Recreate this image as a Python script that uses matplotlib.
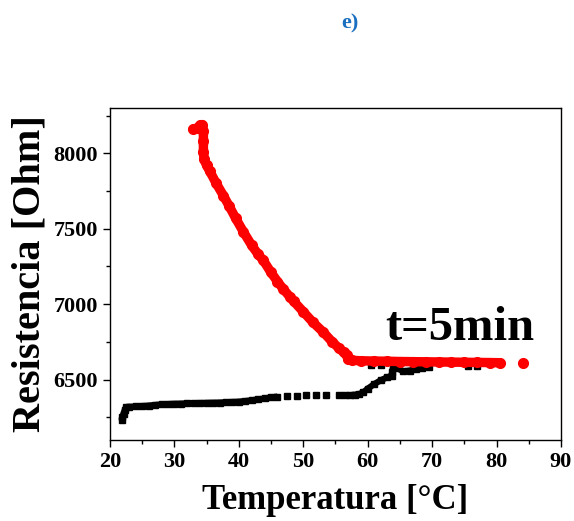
import matplotlib
matplotlib.use("Agg")
import matplotlib.pyplot as plt
from matplotlib.ticker import MultipleLocator

# ---- data ----
red_T = [32.9, 33.5, 34.0, 34.3, 34.5, 34.5, 34.5, 34.6, 35.0, 35.5, 36.5, 37.6, 38.5,
         39.5, 40.7, 42.0, 43.0, 43.8, 45.0, 46.0, 46.9, 48.0, 48.5, 50.0, 51.5,
         53.1, 54.5, 55.5, 56.3, 56.8, 56.9, 57.5, 59.0, 61.0, 63.0, 65.0, 67.0,
         69.0, 71.0, 73.0, 75.0, 77.0, 79.0, 80.5]
red_R = [8160, 8165, 8185, 8190, 8150, 8080, 8010, 7960, 7920, 7880, 7800, 7720, 7650,
         7570, 7480, 7390, 7330, 7290, 7210, 7150, 7100, 7045, 7020, 6950, 6880,
         6815, 6750, 6710, 6680, 6660, 6635, 6628, 6625, 6623, 6622, 6620, 6619,
         6618, 6617, 6616, 6615, 6614, 6613, 6612]
red_iso_T = [84.1]
red_iso_R = [6612]

black_lo_T = [21.8, 21.9, 22.1, 22.3, 22.5, 23.0, 24.0, 25.0, 26.0, 27.0, 28.0, 29.0,
              30.0, 31.0, 32.0, 33.0, 34.0, 35.0, 36.0, 37.0, 38.0, 39.0, 40.0, 41.0,
              42.0, 43.0, 44.0, 45.0, 46.0]
black_lo_R = [6232, 6250, 6275, 6300, 6318, 6320, 6322, 6325, 6328, 6332, 6336, 6338,
              6340, 6341, 6342, 6344, 6345, 6346, 6347, 6348, 6350, 6352, 6354, 6358,
              6363, 6369, 6375, 6382, 6388]
black_mid_T = [47.5, 49.0, 50.5, 52.0, 53.5, 55.5, 56.5]
black_mid_R = [6392, 6394, 6395, 6396, 6396, 6397, 6397]
black_hi_T = [57.3, 58.0, 58.7, 59.3, 60.0, 61.0, 62.0, 63.0, 63.7, 63.8, 63.9, 64.5,
              65.5, 66.5, 67.5, 68.5, 69.5]
black_hi_R = [6397, 6400, 6405, 6415, 6440, 6470, 6495, 6515, 6525, 6550, 6575, 6578,
              6555, 6560, 6570, 6578, 6585]
black_top_T = [60.5, 62.0, 75.5, 77.0]
black_top_R = [6597, 6597, 6590, 6592]

x_ticks = [20, 30, 40, 50, 60, 70, 80, 90]
y_ticks = [6500, 7000, 7500, 8000]

# ---- figure ----
plt.rcParams['font.family'] = ['Liberation Serif', 'DejaVu Serif']
fig = plt.figure(figsize=(5.74, 5.21), dpi=100)
ax = fig.add_axes([0.1916, 0.1555, 0.7857, 0.6372])

sq = dict(marker='s', ms=4.6, color='black', mec='black', ls='none')
ax.plot(black_lo_T, black_lo_R, color='black', lw=4.5, solid_capstyle='butt')
ax.plot(black_lo_T, black_lo_R, **sq)
ax.plot(black_mid_T, black_mid_R, **sq)
ax.plot(black_hi_T, black_hi_R, color='black', lw=4.5, solid_capstyle='butt')
ax.plot(black_hi_T, black_hi_R, **sq)
ax.plot(black_top_T, black_top_R, **sq)

ax.plot(red_T, red_R, color='#ff0000', lw=6.8, solid_capstyle='round',
        solid_joinstyle='round', marker='o', ms=7, mec='#ff0000')
ax.plot(red_iso_T, red_iso_R, 'o', color='#ff0000', ms=7)

ax.set_xlim(20, 90)
ax.set_ylim(6100, 8300)
ax.set_xticks(x_ticks)
ax.set_yticks(y_ticks)
ax.xaxis.set_minor_locator(MultipleLocator(5))
ax.yaxis.set_minor_locator(MultipleLocator(250))
ax.tick_params(which='major', direction='out', length=5, width=1, labelsize=16,
               top=False, right=False)
ax.tick_params(which='minor', direction='out', length=3, width=1, top=False, right=False)
for lab in ax.get_xticklabels() + ax.get_yticklabels():
    lab.set_fontweight('bold')
for s in ax.spines.values():
    s.set_linewidth(1.0)

ax.set_xlabel('Temperatura [°C]', fontsize=25, fontweight='bold', labelpad=9)
ax.set_ylabel('Resistencia [Ohm]', fontsize=29, fontweight='bold', labelpad=4)

ax.text(62.7, 6762, 't=5min', fontsize=35, fontweight='bold', ha='left', va='baseline')

fig.text(0.61, 0.955, 'e)', fontsize=16, fontweight='bold', color='#1a6fc0',
         ha='center', va='center')

fig.savefig('out.png', dpi=100)
